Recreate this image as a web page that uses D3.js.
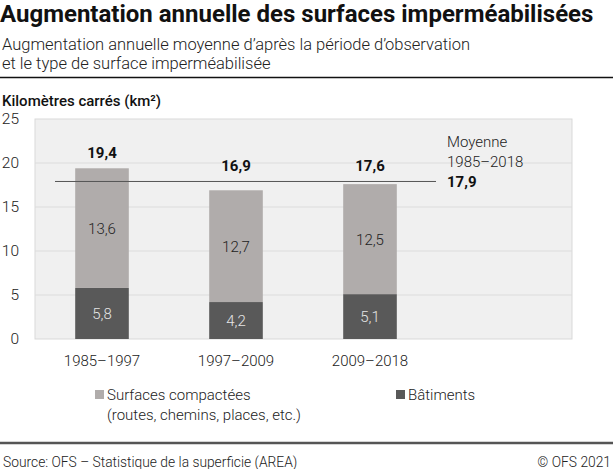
<!DOCTYPE html>
<head>
<meta charset="utf-8">
<title>Surfaces imperméabilisées</title>
<script src="https://d3js.org/d3.v7.min.js"></script>
<style>
body { margin: 0; background: #fff; }
text { font-family: Roboto, sans-serif; }
</style>
</head>
<body>
<div id="container"></div>
<script>
//--------------------------- DATA ---------------------------//
const periods = ["1985–1997", "1997–2009", "2009–2018"];
const batiments = [5.8, 4.2, 5.1];
const compactees = [13.6, 12.7, 12.5];
const totals = [19.4, 16.9, 17.6];
const moyenne = 17.9;
const yTicks = [0, 5, 10, 15, 20, 25];

const fmt = v => d3.format(".1f")(v).replace(".", ",");

//--------------------------- SVG ----------------------------//
const width = 613;
const height = 469;
const plot = { left: 35, right: 572, top: 119, bottom: 339 };

const svg = d3.select("#container").append("svg")
    .attr("width", width)
    .attr("height", height);

// title block
svg.append("text")
    .attr("x", 0).attr("y", 22)
    .style("font-size", "24px").style("font-weight", "700")
    .attr("fill", "#111")
    .text("Augmentation annuelle des surfaces imperméabilisées");

svg.append("text")
    .attr("x", 2).attr("y", 50)
    .style("font-size", "16.5px").style("font-weight", "300")
    .attr("fill", "#222")
    .text("Augmentation annuelle moyenne d’après la période d’observation");
svg.append("text")
    .attr("x", 2).attr("y", 69)
    .style("font-size", "16.5px").style("font-weight", "300")
    .attr("fill", "#222")
    .text("et le type de surface imperméabilisée");

svg.append("line")
    .attr("x1", 0).attr("x2", width)
    .attr("y1", 77.5).attr("y2", 77.5)
    .attr("stroke", "#111").attr("stroke-width", 1.3);

svg.append("text")
    .attr("x", 2).attr("y", 106)
    .style("font-size", "15px").style("font-weight", "500")
    .attr("fill", "#111")
    .text("Kilomètres carrés (km²)");

//-------------------------- SCALES --------------------------//
const x = d3.scaleBand()
    .domain(periods)
    .range([plot.left, plot.left + 402])
    .paddingInner(0.6)
    .paddingOuter(0.3);

const y = d3.scaleLinear().domain([0, 25]).range([plot.bottom, plot.top]);

//----------------------- BACKGROUND -------------------------//
svg.append("rect")
    .attr("x", plot.left).attr("y", plot.top)
    .attr("width", plot.right - plot.left)
    .attr("height", plot.bottom - plot.top)
    .attr("fill", "#f0f0f0")
    .attr("stroke", "#d9d9d9").attr("stroke-width", 1);

svg.append("g").selectAll("line")
    .data(yTicks.filter(d => d > 0 && d < 25))
    .join("line")
    .attr("x1", plot.left).attr("x2", plot.right)
    .attr("y1", d => y(d)).attr("y2", d => y(d))
    .attr("stroke", "#dcdcdc").attr("stroke-width", 1);

// y axis labels
const yaxis = d3.axisLeft(y).tickValues(yTicks).tickSize(0).tickPadding(0);
const gy = svg.append("g")
    .attr("transform", "translate(19,0)")
    .call(yaxis);
gy.select(".domain").remove();
gy.selectAll("text")
    .style("font-family", "Roboto, sans-serif")
    .style("font-size", "15.5px").style("font-weight", "300")
    .attr("fill", "#222");

//-------------------------- BARS ----------------------------//
const rows = periods.map((p, i) => ({ p, b: batiments[i], c: compactees[i], t: totals[i] }));

const bars = svg.append("g").selectAll("g").data(rows).join("g");

bars.append("rect")
    .attr("x", d => x(d.p)).attr("width", x.bandwidth())
    .attr("y", d => y(d.b)).attr("height", d => y(0) - y(d.b))
    .attr("fill", "#595959");

bars.append("rect")
    .attr("x", d => x(d.p)).attr("width", x.bandwidth())
    .attr("y", d => y(d.b + d.c)).attr("height", d => y(d.b) - y(d.b + d.c))
    .attr("fill", "#b0acab");

bars.append("text")
    .attr("x", d => x(d.p) + x.bandwidth() / 2)
    .attr("y", d => y(d.b / 2) + 5.5)
    .attr("text-anchor", "middle")
    .style("font-size", "15px").style("font-weight", "300")
    .attr("fill", "#e6e6e6")
    .text(d => fmt(d.b));

bars.append("text")
    .attr("x", d => x(d.p) + x.bandwidth() / 2)
    .attr("y", d => y(d.b + d.c / 2) + 5.5)
    .attr("text-anchor", "middle")
    .style("font-size", "15px").style("font-weight", "300")
    .attr("fill", "#222")
    .text(d => fmt(d.c));

bars.append("text")
    .attr("x", d => x(d.p) + x.bandwidth() / 2)
    .attr("y", d => Math.min(y(d.t), y(moyenne)) - 10)
    .attr("text-anchor", "middle")
    .style("font-size", "15px").style("font-weight", "700")
    .attr("fill", "#111")
    .text(d => fmt(d.t));

// x labels
bars.append("text")
    .attr("x", d => x(d.p) + x.bandwidth() / 2)
    .attr("y", 366)
    .attr("text-anchor", "middle")
    .style("font-size", "15px").style("font-weight", "300")
    .attr("fill", "#222")
    .text(d => d.p);

//------------------------ AVERAGE ---------------------------//
svg.append("line")
    .attr("x1", 55).attr("x2", 436)
    .attr("y1", y(moyenne)).attr("y2", y(moyenne))
    .attr("stroke", "#555").attr("stroke-width", 1);

const avg = svg.append("text")
    .attr("x", 447)
    .style("font-size", "15px")
    .attr("fill", "#222");
avg.append("tspan").attr("x", 447).attr("y", y(moyenne) - 34)
    .style("font-weight", "300").text("Moyenne");
avg.append("tspan").attr("x", 447).attr("y", y(moyenne) - 14)
    .style("font-weight", "300").text("1985–2018");
avg.append("tspan").attr("x", 447).attr("y", y(moyenne) + 5.5)
    .style("font-weight", "700").attr("fill", "#111").text(fmt(moyenne));

//------------------------- LEGEND ---------------------------//
const legend = [
    { label: ["Surfaces compactées", "(routes, chemins, places, etc.)"], color: "#b0acab", x: 95 },
    { label: ["Bâtiments"], color: "#595959", x: 396 }
];
const lg = svg.append("g").selectAll("g").data(legend).join("g");
lg.append("rect")
    .attr("x", d => d.x).attr("y", 390)
    .attr("width", 9).attr("height", 9)
    .attr("fill", d => d.color);
lg.each(function(d) {
    const t = d3.select(this).append("text")
        .style("font-size", "15px").style("font-weight", "300")
        .attr("fill", "#222");
    d.label.forEach((s, i) => {
        t.append("tspan").attr("x", d.x + 12).attr("y", 400 + i * 20).text(s);
    });
});

//------------------------- FOOTER ---------------------------//
svg.append("line")
    .attr("x1", 0).attr("x2", width)
    .attr("y1", 443).attr("y2", 443)
    .attr("stroke", "#555").attr("stroke-width", 2.3);

svg.append("text")
    .attr("x", 3).attr("y", 467)
    .style("font-size", "13.8px").style("font-weight", "300")
    .attr("fill", "#222")
    .text("Source: OFS – Statistique de la superficie (AREA)");

svg.append("text")
    .attr("x", 611).attr("y", 467)
    .attr("text-anchor", "end")
    .style("font-size", "13.8px").style("font-weight", "300")
    .attr("fill", "#222")
    .text("© OFS 2021");
</script>
</body>
